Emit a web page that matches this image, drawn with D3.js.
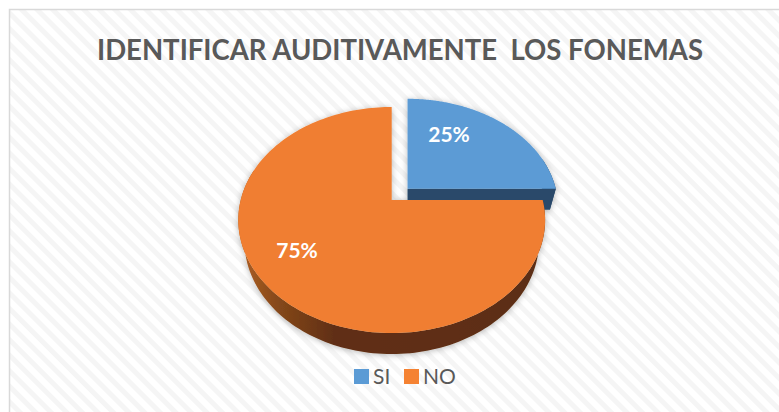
<!DOCTYPE html>
<html><head><meta charset="utf-8">
<script src="https://cdn.jsdelivr.net/npm/d3@7"></script>
<style>html,body{margin:0;padding:0;background:#fff}svg{display:block}text{white-space:pre}</style>
</head><body><div id="c"></div>
<script>
const titleText = "IDENTIFICAR AUDITIVAMENTE  LOS FONEMAS";
const categories = ["SI", "NO"];
const values = [25, 75];
const labels = ["25%", "75%"];
const colors = ["#5b9bd5", "#f07e30"];
const legendColors = ["#5b9bd5", "#f58232"];
const explode = [0.105, 0];
const wallColors = ["#2a4a6b", "url(#wallNO)"];
const labelPos = [[449, 142], [297, 258]];

const W = 779, H = 412;
const svg = d3.select("#c").append("svg").attr("width", W).attr("height", H);
const defs = svg.append("defs");
const pat = defs.append("pattern").attr("id", "stripes").attr("patternUnits", "userSpaceOnUse")
  .attr("width", 11).attr("height", 11).attr("patternTransform", "rotate(45)");
pat.append("rect").attr("width", 11).attr("height", 11).attr("fill", "#ffffff");
pat.append("rect").attr("width", 11).attr("height", 5).attr("fill", "#f5f5f5");
const g = defs.append("linearGradient").attr("id", "wallNO").attr("gradientUnits", "userSpaceOnUse")
  .attr("x1", 245).attr("x2", 540).attr("y1", 0).attr("y2", 0);
[[0, "#a85c22"], [0.12, "#83471a"], [0.3, "#612f12"], [1, "#5c2e12"]].forEach(s =>
  g.append("stop").attr("offset", s[0]).attr("stop-color", s[1]));
const f = defs.append("filter").attr("id", "soft").attr("x", "-10%").attr("y", "-10%").attr("width", "120%").attr("height", "120%");
f.append("feDropShadow").attr("dx", 0).attr("dy", 1).attr("stdDeviation", 3).attr("flood-color", "#000").attr("flood-opacity", 0.28);

svg.append("rect").attr("x", 9.5).attr("y", 9.5).attr("width", W).attr("height", H)
  .attr("fill", "url(#stripes)").attr("stroke", "#d9d9d9").attr("stroke-width", 1.5);

svg.append("text").attr("x", 97).attr("y", 60)
  .attr("font-family", "Lato").attr("font-weight", 700).attr("font-size", 29).attr("fill", "#595959")
  .attr("textLength", 606).attr("lengthAdjust", "spacingAndGlyphs")
  .text(titleText);

// perspective projection of the pie's plane (u right, v away from viewer)
const x0 = 391.7, y0 = 200, A = 151, B = 109.5, K = 0.177;
const depthY = 21, depthX = 0.96;
function project(u, v, low, shiftU) {
  const s = 1 / (1 + K * v);
  return [x0 + A * shiftU + A * (low ? depthX : 1) * u * s, y0 - B * v * s + (low ? depthY : 0)];
}
const line = d3.line();
const arcs = d3.pie().sort(null).value(d => d)(values);
const pieces = arcs.map((a, i) => {
  const d = explode[i], mid = (a.startAngle + a.endAngle) / 2;
  const ox = d * Math.SQRT2 * Math.sin(mid), oy = d * Math.SQRT2 * Math.cos(mid);
  const angles = d3.range(0, 181).map(k => a.startAngle + (a.endAngle - a.startAngle) * k / 180);
  const pt = (t, low) => project(Math.sin(t), oy + Math.cos(t), low, ox);
  return {
    i, angles, pt,
    corner: low => project(0, oy, low, ox)
  };
});

const layer = svg.append("g").attr("filter", "url(#soft)");
// Blue slice first, since the orange one covers its lower walls.
pieces.forEach(p => {
  const gp = layer.append("g");
  const top = p.angles.map(t => p.pt(t, false));
  const front = p.angles.filter(t => Math.cos(t) < 0.3);
  gp.append("path").attr("fill", wallColors[p.i]).attr("d",
    line(front.map(t => p.pt(t, false)).concat(front.slice().reverse().map(t => p.pt(t, true)))) + "Z");
  const endA = p.angles[p.angles.length - 1];
  gp.append("path").attr("fill", wallColors[p.i]).attr("d",
    line([p.corner(false), p.pt(endA, false), p.pt(endA, true), p.corner(true)]) + "Z");
  gp.append("path").attr("fill", colors[p.i]).attr("d",
    line([p.corner(false)].concat(top)) + "Z");
});

svg.append("g").selectAll("text").data(labels).join("text")
  .attr("x", (d, i) => labelPos[i][0]).attr("y", (d, i) => labelPos[i][1])
  .attr("text-anchor", "middle").attr("font-family", "Lato").attr("font-weight", 700)
  .attr("font-size", 21).attr("fill", "#fff").text(d => d);

// legend
const legX = d3.scaleOrdinal().domain(categories).range([354, 404]);
const leg = svg.append("g").selectAll("g").data(categories).join("g")
  .attr("transform", d => `translate(${legX(d)},369)`);
leg.append("rect").attr("width", 15).attr("height", 15).attr("fill", (d, i) => legendColors[i]);
leg.append("text").attr("x", 19).attr("y", 15).attr("font-family", "Lato").attr("font-size", 21)
  .attr("fill", "#595959").text(d => d);
</script></body></html>
